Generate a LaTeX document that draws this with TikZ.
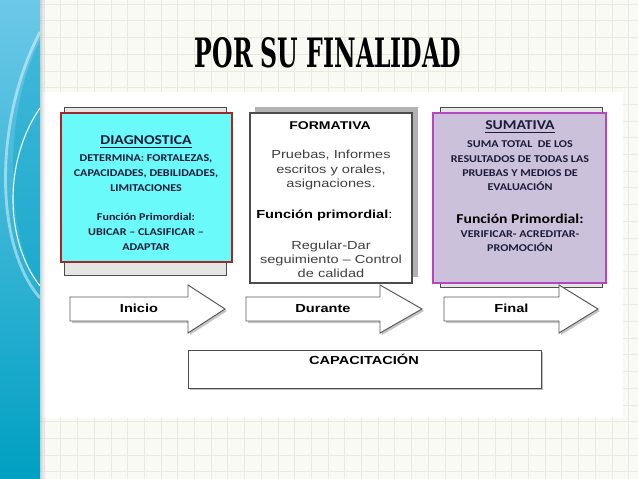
\documentclass[tikz,border=0pt]{standalone}
\usepackage{fontspec}
\usepackage{graphicx}
\setmainfont{Carlito}[FakeStretch=1.16]
\newfontfamily\arialfont{Liberation Sans}[FakeStretch=1.25]
\newfontfamily\titlefont{DejaVu Serif}
\usetikzlibrary{positioning}

\definecolor{sidetop}{HTML}{6CC8E8}
\definecolor{sidebot}{HTML}{00A0C2}
\definecolor{gridcol}{HTML}{EAEAE0}
\definecolor{paper}{HTML}{FAFAF5}
\definecolor{diagfill}{HTML}{6AFAFA}
\definecolor{diagline}{HTML}{A02828}
\definecolor{sumfill}{HTML}{CCC1DA}
\definecolor{sumline}{HTML}{B845C0}
\definecolor{inktext}{HTML}{1C1C3A}

\tikzset{
  stagebox/.style={draw, thick, inner sep=0pt},
  backbox/.style={fill=gray!20, draw=black!70},
  stagearrow/.style={draw=black!65, fill=white, line width=0.7pt},
  calibri/.style={text=inktext, align=center, inner sep=0pt, font=\fontsize{7.4}{10.6}\selectfont\bfseries},
  arial/.style={text=black!75, align=center, inner sep=0pt, font=\arialfont\fontsize{8.3}{10}\selectfont},
  steplabel/.style={inner sep=0pt, anchor=base, font=\arialfont\bfseries\fontsize{8.3}{10}\selectfont}
}

\begin{document}
\begin{tikzpicture}[x=0.025cm, y=-0.025cm]
  \useasboundingbox (0,0) rectangle (638,479);

  % Paper with grid
  \fill[paper] (0,0) rectangle (638,479);
  \foreach \gx in {44,60.7,...,638} \draw[gridcol, line width=0.4pt] (\gx,0) -- (\gx,479);
  \foreach \gy in {4,20.7,...,479} \draw[gridcol, line width=0.4pt] (40,\gy) -- (638,\gy);
  \fill[white] (40,92) rectangle (623,418);

  % Side band
  \shade[top color=sidetop, bottom color=sidebot] (0,0) rectangle (40,479);
  \fill[sidebot, opacity=0.35] (40,40) .. controls (4,110) and (4,230) .. (40,290) -- cycle;
  \draw[white, line width=2pt, opacity=0.45] (40,32) .. controls (-6,120) and (-6,245) .. (40,298);
  \draw[white, line width=0.8pt, opacity=0.9] (40,108) .. controls (4,160) and (4,240) .. (40,286);
  \shade[left color=black!30, right color=black!30, opacity=0.5] (40,0) rectangle (42,479);
  \shade[left color=black!25, right color=white, opacity=0.35] (42,0) rectangle (46,479);

  % Title
  \node (title) at (328,53) {\resizebox{6.65cm}{0.75cm}{\titlefont\bfseries POR SU FINALIDAD}};

  % Diagnostica
  \draw[backbox] (64,107) rectangle (226,275);
  \node[stagebox, draw=diagline, fill=diagfill, minimum width=4.275cm, minimum height=3.725cm] (diag) at (146.5,187.5) {};
  \node[calibri, font=\fontsize{9.6}{12}\selectfont\bfseries] (diagtitle) at (146,142) {\underline{DIAGNOSTICA}};
  \node[calibri] (diagtext) at (146,173) {DETERMINA: FORTALEZAS,\\CAPACIDADES, DEBILIDADES,\\LIMITACIONES};
  \node[calibri] (diagfunc) at (146,232) {Función Primordial:\\UBICAR – CLASIFICAR –\\ADAPTAR};

  % Formativa
  \fill[gray!60] (255,107) rectangle (418,277);
  \node[stagebox, draw=black!70, fill=white, minimum width=4.05cm, minimum height=4.25cm] (form) at (331,198) {};
  \node[arial, text=black, font=\arialfont\bfseries\fontsize{8}{10}\selectfont] (formtitle) at (330,126) {FORMATIVA};
  \node[arial] (formtext) at (331,170) {Pruebas, Informes\\escritos y orales,\\asignaciones.};
  \node[arial, text=black, anchor=west] (formfunc) at (256,215) {\textbf{Función primordial}:};
  \node[arial] (formgoal) at (331,259) {Regular-Dar\\seguimiento – Control\\de calidad};

  % Sumativa
  \draw[backbox] (440,107) rectangle (602,287);
  \node[stagebox, draw=sumline, fill=sumfill, minimum width=4.325cm, minimum height=4.25cm] (sum) at (519.5,198) {};
  \node[calibri, font=\fontsize{9.6}{12}\selectfont\bfseries] (sumtitle) at (520,127) {\underline{SUMATIVA}};
  \node[calibri, font=\fontsize{7.4}{10.2}\selectfont\bfseries] (sumtext) at (520,166) {SUMA TOTAL\ \ DE LOS\\RESULTADOS DE TODAS LAS\\PRUEBAS Y MEDIOS DE\\EVALUACIÓN};
  \node[calibri, text=black, font=\fontsize{9.6}{12}\selectfont\bfseries] (sumhead) at (520,219) {Función Primordial:};
  \node[calibri, font=\fontsize{7.4}{9.6}\selectfont\bfseries] (sumfunc) at (520,241) {VERIFICAR- ACREDITAR-\\PROMOCIÓN};

  % Stage arrows
  \foreach \xa/\xb/\xc/\nm/\lab in {70/188/225/inicio/Inicio, 246/380/422/durante/Durante, 444/559/598/final/Final} {
    \fill[gray!45, shift={(2,2)}] (\xa,297) -- (\xb,297) -- (\xb,285) -- (\xc,309) -- (\xb,333) -- (\xb,321) -- (\xa,321) -- cycle;
    \draw[stagearrow] (\xa,297) -- (\xb,297) -- (\xb,285) -- (\xc,309) -- (\xb,333) -- (\xb,321) -- (\xa,321) -- cycle;
    \node[steplabel] (\nm) at ({(\xa+\xb)/2+10},312) {\lab};
  }

  % Capacitacion
  \fill[gray!50] (190,352) rectangle (543,390);
  \node[stagebox, draw=black!70, fill=white, thin, minimum width=8.825cm, minimum height=0.95cm] (cap) at (364.5,369) {};
  \node[steplabel] (captext) at (364,364) {CAPACITACIÓN};
\end{tikzpicture}
\end{document}
